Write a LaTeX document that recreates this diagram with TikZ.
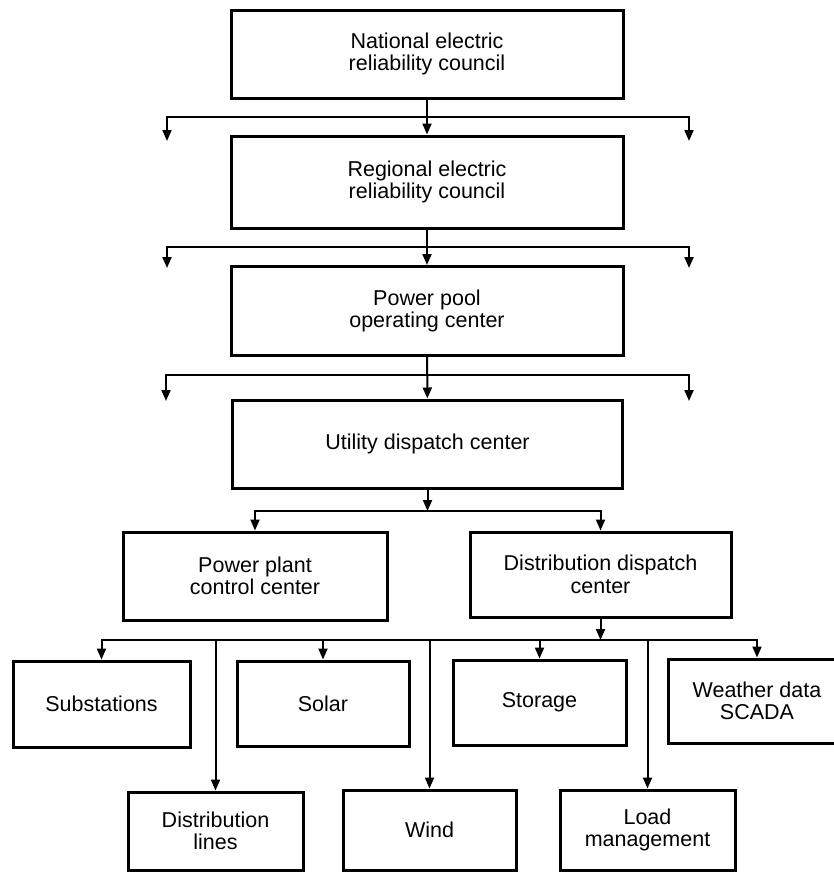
\documentclass[tikz,border=0pt]{standalone}
\usepackage{fontspec}
\setmainfont{Liberation Sans}
\usepackage{tikz}
\usetikzlibrary{arrows.meta}
\tikzstyle{ctrl_box}=[draw=black, line width=3pt, inner sep=0pt, align=center,
    font=\fontsize{21.5}{22.5}\selectfont]
\tikzstyle{feed_arrow}=[line width=2pt, -{Triangle[length=11pt,width=9pt]}]

\begin{document}
\begin{tikzpicture}[x=1pt,y=-1pt]
  \useasboundingbox (0,0) rectangle (833,873);
  % council / pool / utility chain
  \node[ctrl_box, minimum width=392, minimum height=88] (nerc) at (427,54) {National electric\\reliability council};
  \node[ctrl_box, minimum width=392, minimum height=92] (rerc) at (427,182) {Regional electric\\reliability council};
  \node[ctrl_box, minimum width=392, minimum height=89] (pool) at (427,311) {Power pool\\operating center};
  \node[ctrl_box, minimum width=390, minimum height=88] (udc) at (427.5,444) {Utility dispatch center};
  \coordinate (j1) at (427,117);
  \coordinate (l1) at (167,141);
  \coordinate (r1) at (689,141);
  \coordinate (j2) at (427,247);
  \coordinate (l2) at (167,268);
  \coordinate (r2) at (689,268);
  \coordinate (j3) at (427,375);
  \coordinate (l3) at (166,401);
  \coordinate (r3) at (689,401);
  \draw[feed_arrow] (nerc) -- (rerc);
  \draw[feed_arrow] (j1) -| (l1);
  \draw[feed_arrow] (j1) -| (r1);
  \draw[feed_arrow] (rerc) -- (pool);
  \draw[feed_arrow] (j2) -| (l2);
  \draw[feed_arrow] (j2) -| (r2);
  \draw[feed_arrow] (pool) -- (udc);
  \draw[feed_arrow] (j3) -| (l3);
  \draw[feed_arrow] (j3) -| (r3);
  % control centers
  \node[ctrl_box, minimum width=264, minimum height=88] (ppcc) at (255,576) {Power plant\\control center};
  \node[ctrl_box, minimum width=261, minimum height=85] (ddc) at (600.5,574.5) {Distribution dispatch\\center};
  \coordinate (j4) at (427.5,511);
  \draw[feed_arrow] (udc) -- (j4);
  \draw[feed_arrow] (j4) -| (ppcc);
  \draw[feed_arrow] (j4) -| (ddc);
  % distribution level
  \node[ctrl_box, minimum width=177, minimum height=86] (subst) at (101.5,704) {Substations};
  \node[ctrl_box, minimum width=172, minimum height=85] (solar) at (323,703.5) {Solar};
  \node[ctrl_box, minimum width=173, minimum height=85] (stor) at (539.5,702.5) {Storage};
  \node[ctrl_box, minimum width=178, minimum height=84] (wthr) at (757,701) {Weather data\\SCADA};
  \node[ctrl_box, minimum width=175, minimum height=78] (distl) at (215.5,831) {Distribution\\lines};
  \node[ctrl_box, minimum width=173, minimum height=80] (wind) at (429.5,830) {Wind};
  \node[ctrl_box, minimum width=175, minimum height=80] (load) at (647.5,830) {Load\\management};
  \coordinate (j5) at (600.5,640);
  \draw[feed_arrow] (ddc) -- (j5);
  \draw[feed_arrow] (j5) -| (subst);
  \draw[feed_arrow] (j5) -| (solar);
  \draw[feed_arrow] (j5) -| (stor);
  \draw[feed_arrow] (j5) -| (wthr);
  \draw[feed_arrow] (j5) -| (distl);
  \draw[feed_arrow] (j5) -| (wind);
  \draw[feed_arrow] (j5) -| (load);
\end{tikzpicture}
\end{document}
